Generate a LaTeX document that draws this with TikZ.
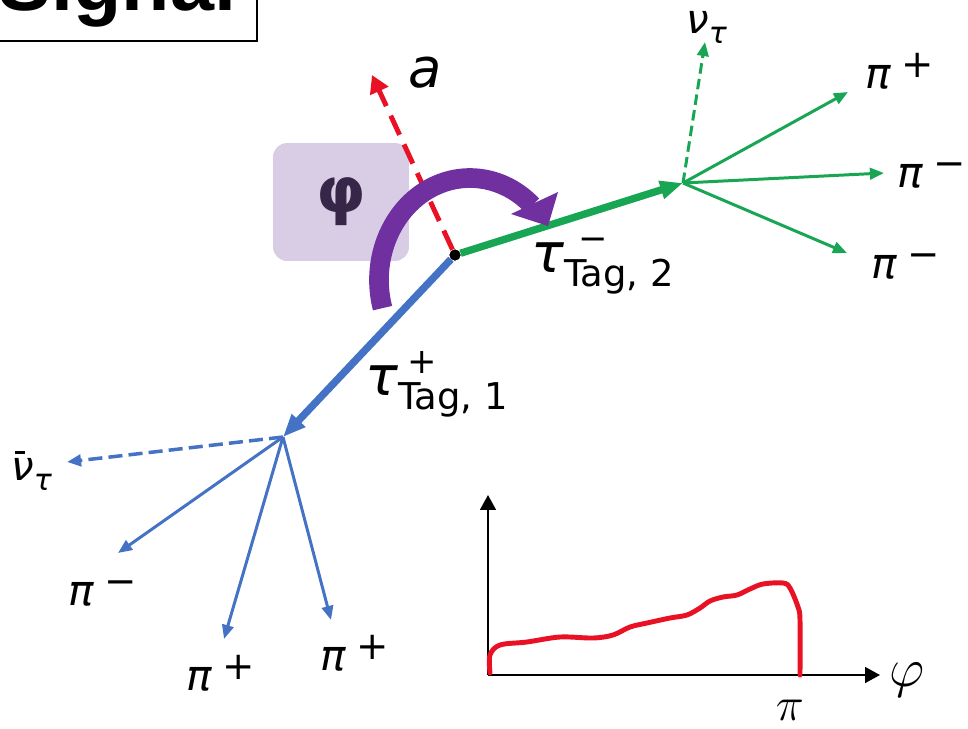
\documentclass[tikz,border=0pt]{standalone}
\usepackage{fontspec}
\usepackage{xcolor}
\usepackage{tikz}
\usetikzlibrary{arrows.meta}

\newfontfamily\lblfont{DejaVu Sans}[ItalicFont={DejaVu Sans Oblique}, BoldFont={DejaVu Sans Bold}]
\newfontfamily\sigfont{Liberation Sans}[BoldFont={Liberation Sans Bold}]

\definecolor{taublue}{RGB}{68,114,196}
\definecolor{taugreen}{RGB}{24,166,84}
\definecolor{axred}{RGB}{232,18,36}
\definecolor{phipurple}{RGB}{112,48,160}
\definecolor{phibg}{RGB}{217,205,230}
\definecolor{phiink}{RGB}{55,38,72}

\newcommand{\pion}[1]{\textit{π}\hspace{6pt}\raisebox{6pt}{\fontsize{22pt}{22pt}\selectfont #1}}
\newcommand{\tautag}[3]{\textit{τ}\rlap{\hspace{#3}\raisebox{12pt}{\fontsize{20pt}{20pt}\selectfont #1}}\raisebox{-8pt}{\fontsize{21pt}{21pt}\selectfont Tag, #2}}
\newcommand{\nutau}{\textit{ν}\raisebox{-6pt}{\fontsize{17pt}{17pt}\selectfont\textit{τ}}}
\newcommand{\nubartau}{\rlap{\hspace{2pt}\raisebox{15pt}{\rule{5.7pt}{1.5pt}}}\nutau}

\begin{document}
\begin{tikzpicture}[
    x=0.02cm, y=-0.02cm,
    vtx/.style={circle, fill=black, inner sep=0pt, minimum size=0.22cm},
    tauline/.style={line width=4.2pt, -{Triangle[length=13pt,width=10pt]}},
    daughter/.style={line width=1.7pt, -{Triangle[length=8pt,width=6.5pt]}},
    nuline/.style={daughter, dash pattern=on 6pt off 3pt},
    axionline/.style={axred, line width=2.8pt, dash pattern=on 12pt off 6pt,
                      -{Triangle[length=10pt,width=11pt]}},
    phiarc/.style={phipurple, line width=11.2pt},
    phibox/.style={fill=phibg, rounded corners=8pt, minimum width=2.72cm,
                   minimum height=2.36cm, text=phiink,
                   font=\lblfont\bfseries\fontsize{36pt}{36pt}\selectfont},
    sigbox/.style={draw, line width=1.1pt, inner xsep=12pt, inner ysep=8pt,
                   font=\sigfont\bfseries\fontsize{45pt}{45pt}\selectfont},
    lbl/.style={inner sep=0pt, anchor=base west, font=\lblfont\fontsize{24pt}{26pt}\selectfont},
    taulbl/.style={lbl, font=\lblfont\fontsize{31pt}{33pt}\selectfont},
    nulbl/.style={lbl, font=\lblfont\fontsize{23pt}{25pt}\selectfont},
    axisline/.style={line width=1.1pt, -{Triangle[length=8.5pt,width=9pt]}},
    distcurve/.style={axred, line width=2.8pt, line cap=round, line join=round},
    axlbl/.style={inner sep=0pt, font=\fontsize{20pt}{20pt}\selectfont}
  ]
    \useasboundingbox (0,0) rectangle (968,728);

    \node[sigbox, anchor=south east] (sig) at (258,42) {Signal};
    \node[phibox] (phi) at (341,202) {φ};

    \node[vtx] (pv) at (455,255) {};
    \coordinate (dv1)  at (283,437);
    \coordinate (dv2)  at (683,183);
    \coordinate (aend) at (372,75);
    \coordinate (nu2)  at (705,42);
    \coordinate (pi2a) at (848,92);
    \coordinate (pi2b) at (884,173);
    \coordinate (pi2c) at (847,253);
    \coordinate (nu1)  at (67,462);
    \coordinate (pi1a) at (118,553);
    \coordinate (pi1b) at (224,639);
    \coordinate (pi1c) at (331,620);

    \draw[axionline] (pv) -- (aend);
    \draw[tauline, taugreen] (pv) -- (dv2);
    \draw[tauline, taublue]  (pv) -- (dv1);
    \draw[nuline, taugreen]   (dv2) -- (nu2);
    \draw[daughter, taugreen] (dv2) -- (pi2a);
    \draw[daughter, taugreen] (dv2) -- (pi2b);
    \draw[daughter, taugreen] (dv2) -- (pi2c);
    \draw[nuline, taublue, dash pattern=on 8pt off 3.5pt, line width=2pt] (dv1) -- (nu1);
    \draw[daughter, taublue]  (dv1) -- (pi1a);
    \draw[daughter, taublue]  (dv1) -- (pi1b);
    \draw[daughter, taublue]  (dv1) -- (pi1c);

    % angle arrow
    \coordinate (arcc) at (470,280);
    \draw[phiarc] (arcc) ++(-196:91 and 102) arc[start angle=-196, end angle=-47, x radius=91, y radius=102];
    \fill[phipurple] (511,214) -- (548,226) -- (558,192) -- cycle;
    \node[vtx] at (pv) {};

    \node[taulbl] (alab)   at (408,87)  {\textit{a}};
    \node[taulbl] (tau2)   at (531,272) {\tautag{−}{2}{8pt}};
    \node[taulbl] (tau1)   at (365,395) {\tautag{+}{1}{5pt}};
    \node[nulbl]  (nu2lab) at (686,33)  {\nutau};
    \node[nulbl]  (nu1lab) at (11,480)  {\nubartau};
    \node[lbl] (pi2alab) at (865,88)  {\pion{+}};
    \node[lbl] (pi2blab) at (897,187) {\pion{−}};
    \node[lbl] (pi2clab) at (871,278) {\pion{−}};
    \node[lbl] (pi1alab) at (68,605)  {\pion{−}};
    \node[lbl] (pi1blab) at (186,690) {\pion{+}};
    \node[lbl] (pi1clab) at (320,670) {\pion{+}};

    % distribution
    \coordinate (po)   at (488,675);
    \coordinate (ytop) at (488,495);
    \coordinate (xend) at (880,675);
    \draw[axisline] (po) -- (ytop);
    \draw[axisline] (po) -- (xend);
    \draw[distcurve] plot[smooth, tension=0.55] coordinates {(490,673) (490,655) (500,645)
      (527,642) (560,637) (593,638) (613,635) (630,627) (647,623) (670,618) (687,615)
      (700,608) (710,601) (723,597) (737,595) (750,589) (763,584) (783,583) (790,588)
      (798,607) (800,620) (800,675)};
    \node[axlbl, scale=1.5] (phiax) at (907,680) {$\varphi$};
    \node[axlbl, scale=1.3] (piax)  at (790,710) {$\pi$};
  \end{tikzpicture}
\end{document}
